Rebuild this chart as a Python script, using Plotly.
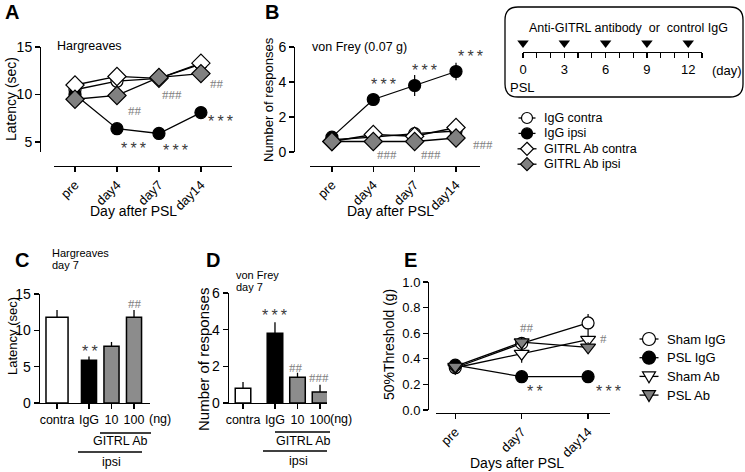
import plotly.graph_objects as go

W, H = 745, 472
def px(x): return x / W
def py(y): return 1 - y / H

SANS = "Liberation Sans, Arial, sans-serif"
SERIF = "Liberation Serif, Times New Roman, serif"
GRAY = "#808080"
BARGRAY = "#8c8c8c"

# ---------------- data ----------------
days = ["pre", "day4", "day7", "day14"]
# Panel A: Hargreaves latency (sec)
a_igg_contra = [10.5, 11.4, 11.7, 13.2]
a_igg_contra_err = [0.4, 0.6, 0.6, 0.8]
a_igg_ipsi = [10.0, 6.4, 5.9, 8.1]
a_igg_ipsi_err = [0.4, 0.4, 0.4, 0.4]
a_ab_contra = [11.0, 11.9, 11.7, 13.3]
a_ab_contra_err = [0.3, 0.4, 0.6, 0.6]
a_ab_ipsi = [9.5, 9.9, 11.8, 12.2]
a_ab_ipsi_err = [0.5, 0.7, 0.9, 0.6]
# Panel B: von Frey (0.07 g) number of responses
b_igg_contra = [0.7, 0.85, 1.05, 1.2]
b_igg_contra_err = [0.1, 0.15, 0.2, 0.2]
b_igg_ipsi = [0.85, 3.0, 3.8, 4.6]
b_igg_ipsi_err = [0.2, 0.2, 0.6, 0.5]
b_ab_contra = [0.6, 1.0, 0.9, 1.4]
b_ab_contra_err = [0.1, 0.2, 0.2, 0.2]
b_ab_ipsi = [0.6, 0.6, 0.6, 0.8]
b_ab_ipsi_err = [0.1, 0.1, 0.1, 0.2]
# Panels C and D: day 7, bars
groups = ["contra", "IgG", "10", "100"]
group_side = ["contra", "ipsi", "ipsi", "ipsi"]
c_latency = [11.8, 5.9, 7.8, 11.8]
c_latency_err = [1.0, 0.5, 0.6, 1.0]
d_responses = [0.8, 3.8, 1.4, 0.6]
d_responses_err = [0.35, 0.6, 0.25, 0.4]
bar_fill = ["white", "black", BARGRAY, BARGRAY]
# Panel E: 50% threshold (g)
e_days = ["pre", "day7", "day14"]
e_sham_igg = [0.33, 0.52, 0.68]
e_sham_igg_err = [0.03, 0.05, 0.07]
e_psl_igg = [0.35, 0.26, 0.26]
e_psl_igg_err = [0.03, 0.05, 0.04]
e_sham_ab = [0.33, 0.44, 0.55]
e_sham_ab_err = [0.03, 0.07, 0.06]
e_psl_ab = [0.34, 0.53, 0.49]
e_psl_ab_err = [0.03, 0.04, 0.04]
# Timeline
timeline_days = list(range(14))
inject_days = [0, 3, 6, 9, 12]

fig = go.Figure()

LINE = dict(color="black", width=1.3)

def err(arr):
    return dict(type="data", array=arr, color="black", thickness=1.2, width=0)

def series(x, y, e, name, symbol, fill, size, xa, ya):
    fig.add_trace(go.Scatter(
        x=x, y=y, error_y=err(e), mode="lines+markers", name=name,
        line=LINE, marker=dict(symbol=symbol, size=size, color=fill,
                               line=dict(color="black", width=1.2)),
        xaxis=xa, yaxis=ya, showlegend=False))

# A
series(days, a_igg_contra, a_igg_contra_err, "IgG contra", "circle", "white", 12, "x", "y")
series(days, a_igg_ipsi, a_igg_ipsi_err, "IgG ipsi", "circle", "black", 12, "x", "y")
series(days, a_ab_contra, a_ab_contra_err, "GITRL Ab contra", "diamond", "white", 14, "x", "y")
series(days, a_ab_ipsi, a_ab_ipsi_err, "GITRL Ab ipsi", "diamond", GRAY, 14, "x", "y")
# B
series(days, b_igg_contra, b_igg_contra_err, "IgG contra", "circle", "white", 12, "x2", "y2")
series(days, b_igg_ipsi, b_igg_ipsi_err, "IgG ipsi", "circle", "black", 12, "x2", "y2")
series(days, b_ab_contra, b_ab_contra_err, "GITRL Ab contra", "diamond", "white", 14, "x2", "y2")
series(days, b_ab_ipsi, b_ab_ipsi_err, "GITRL Ab ipsi", "diamond", GRAY, 14, "x2", "y2")
# E
series(e_days, e_sham_igg, e_sham_igg_err, "Sham IgG", "circle", "white", 12, "x5", "y5")
series(e_days, e_psl_igg, e_psl_igg_err, "PSL IgG", "circle", "black", 12, "x5", "y5")
series(e_days, e_sham_ab, e_sham_ab_err, "Sham Ab", "triangle-down", "white", 13, "x5", "y5")
series(e_days, e_psl_ab, e_psl_ab_err, "PSL Ab", "triangle-down", GRAY, 13, "x5", "y5")

# C and D bars: slot = index, plus a gap separating the contra bar from the ipsi group
GROUP_GAP = 0.42
slots = []
for i, s in enumerate(group_side):
    slots.append(i + (GROUP_GAP if s == "ipsi" else 0.0))

def bars(y, e, xa, ya, widths):
    fig.add_trace(go.Bar(
        x=slots, y=y, width=widths, marker=dict(color=bar_fill, line=dict(color="black", width=1.5)),
        error_y=dict(type="data", symmetric=False, array=e, arrayminus=[0] * len(e),
                     color="black", thickness=1.3, width=0),
        xaxis=xa, yaxis=ya, showlegend=False, name=""))

bars(c_latency, c_latency_err, "x3", "y3", [0.98, 0.67, 0.67, 0.67])
bars(d_responses, d_responses_err, "x4", "y4", [0.69, 0.69, 0.69, 0.69])

# Timeline injections
fig.add_trace(go.Scatter(x=inject_days, y=[0.5] * len(inject_days), mode="markers",
                         marker=dict(symbol="triangle-down", size=10, color="black"),
                         cliponaxis=False,
                         xaxis="x6", yaxis="y6", showlegend=False, hoverinfo="skip"))

AX = dict(showline=True, linecolor="black", linewidth=1.3, ticks="outside", ticklen=5,
          tickwidth=1.3, tickcolor="black", showgrid=False, zeroline=False,
          tickfont=dict(family=SANS, size=14, color="black"))

def xcat(**kw):
    d = dict(AX); d.update(type="category"); d.update(kw); return d

def ylin(**kw):
    d = dict(AX); d.update(kw); return d

TF13 = dict(family=SANS, size=13, color="black")
TF125 = dict(family=SANS, size=12.5, color="black")
layout_axes = dict(
    xaxis=xcat(domain=[px(54), px(232)], anchor="free", position=py(166), range=[-0.5, 3.74],
               tickangle=-45, tickfont=TF13),
    yaxis=ylin(domain=[py(152), py(47)], anchor="free", position=px(40), range=[3.95, 15],
               tickvals=[5, 10, 15]),
    xaxis2=xcat(domain=[px(310), px(480)], anchor="free", position=py(166), range=[-0.53, 3.58],
                tickangle=-45, tickfont=TF13),
    yaxis2=ylin(domain=[py(152), py(47)], anchor="free", position=px(294), range=[0, 6],
                tickvals=[0, 2, 4, 6]),
    xaxis3=ylin(domain=[px(40), px(150)], anchor="y3", range=[-0.756, 4.13], tickangle=0,
                tickvals=slots, ticktext=groups, tickfont=TF125),
    yaxis3=ylin(domain=[py(403), py(294)], anchor="x3", range=[0, 15], tickvals=[0, 5, 10, 15]),
    xaxis4=ylin(domain=[px(229), px(327)], anchor="y4", range=[-0.622, 3.73], tickangle=0,
                tickvals=slots, ticktext=groups, tickfont=TF125),
    yaxis4=ylin(domain=[py(403), py(293)], anchor="x4", range=[0, 6], tickvals=[0, 2, 4, 6]),
    xaxis5=xcat(domain=[px(436), px(610)], anchor="free", position=py(413), range=[-0.29, 2.33],
                tickangle=-45, tickfont=TF13),
    yaxis5=ylin(domain=[py(410), py(282)], anchor="free", position=px(428), range=[0, 1],
                tickvals=[0, 0.2, 0.4, 0.6, 0.8, 1.0], tickformat=".1f", tickfont=TF13),
    xaxis6=dict(AX, domain=[px(523), px(702)], anchor="free", position=py(52), range=[0, 13],
                tickvals=timeline_days, tickangle=0,
                ticktext=[str(d) if d in inject_days else "" for d in timeline_days],
                tickfont=TF13),
    yaxis6=dict(domain=[py(48), py(38)], range=[0, 1], visible=False, anchor="free", position=px(523)),
)

ann = []
def text(x, y, t, size=13, color="black", family=SANS, angle=0, xanchor="center", bold=False):
    ann.append(dict(x=px(x), y=py(y), xref="paper", yref="paper", text=("<b>%s</b>" % t) if bold else t,
                    showarrow=False, textangle=angle, xanchor=xanchor, yanchor="middle",
                    font=dict(family=family, size=size, color=color)))

# panel letters
for L, x, y in [("A", 12, 12), ("B", 272, 12), ("C", 22, 260), ("D", 213, 260), ("E", 411, 260)]:
    text(x, y, L, size=20, bold=True)

# axis titles
text(11, 99, "Latency (sec)", size=14, angle=-90)
text(268, 100, "Number of responses", size=13, angle=-90)
text(12, 336, "Latency (sec)", size=13, angle=-90)
text(203, 360, "Number of responses", size=15, angle=-90)
text(389, 345, "50%Threshold (g)", size=14, angle=-90)
text(133, 211, "Day after PSL", size=14)
text(390, 211, "Day after PSL", size=14)
text(517, 463, "Days after PSL", size=14)

# panel subtitles
text(55, 46, "Hargreaves", size=12.5, xanchor="left")
text(310, 47, "von Frey (0.07 g)", size=12.5, xanchor="left")
text(50, 253, "Hargreaves", size=11, xanchor="left")
text(50, 265, "day 7", size=11, xanchor="left")
text(234, 275, "von Frey", size=11, xanchor="left")
text(234, 287, "day 7", size=11, xanchor="left")

# C / D group labels
text(160, 419, "(ng)", size=12.5)
text(341, 419, "(ng)", size=12.5)
text(120, 441, "GITRL Ab", size=12.5)
text(112, 462, "ipsi", size=12.5)
text(303, 441, "GITRL Ab", size=12.5)
text(298, 461, "ipsi", size=12.5)

# timeline texts
text(628, 28, "Anti-GITRL antibody  or  control IgG", size=12.5)
text(727, 71, "(day)", size=13)
text(522, 88, "PSL", size=13)

# significance marks
STAR = "#3a3a3a"
THIN = "\u2009"
def stars(x, y, t):
    text(x, y + 3, THIN.join(t), size=16, color=STAR)
def hashes(x, y, t):
    text(x, y, t, size=13, color=GRAY, family=SERIF)

for x, y, t in [(133, 145, "***"), (175, 148, "***"), (220, 119, "***"),
                (383, 82, "***"), (425, 67, "***"), (470, 53, "***"),
                (90, 348, "**"), (274, 312, "***"),
                (535, 388, "**"), (608, 388, "***")]:
    stars(x, y, t)
for x, y, t in [(135, 110, "##"), (172, 94, "###"), (217, 84, "##"),
                (387, 154, "###"), (431, 154, "###"), (483, 145, "###"),
                (135, 303, "##"), (296, 367, "##"), (319, 377, "###"),
                (527, 327, "##"), (603, 338, "#")]:
    hashes(x, y, t)

# shapes
shapes = []
def hline(x0, x1, y, w=1.3):
    shapes.append(dict(type="line", xref="paper", yref="paper", x0=px(x0), x1=px(x1),
                       y0=py(y), y1=py(y), line=dict(color="black", width=w)))
hline(100, 151, 433)
hline(78, 142, 452)
hline(275, 330, 432)
hline(263, 327, 451)

def P(x, y):
    return "%.5f,%.5f" % (px(x), py(y))
x0, y0, x1, y1, r = 505, 7, 743, 97, 13
path = ("M %s L %s Q %s %s L %s Q %s %s L %s Q %s %s L %s Q %s %s Z" % (
    P(x0 + r, y0), P(x1 - r, y0), P(x1, y0), P(x1, y0 + r), P(x1, y1 - r), P(x1, y1), P(x1 - r, y1),
    P(x0 + r, y1), P(x0, y1), P(x0, y1 - r), P(x0, y0 + r), P(x0, y0), P(x0 + r, y0)))
shapes.append(dict(type="path", xref="paper", yref="paper", path=path,
                   line=dict(color="black", width=1.3)))

# hand-drawn legends (symbol + label)
def legend_symbol(cx, cy, symbol, fill, r):
    hline(cx - r - 3, cx + r + 3, cy, 1.3)
    if symbol == "circle":
        shapes.append(dict(type="circle", xref="paper", yref="paper",
                           x0=px(cx - r), x1=px(cx + r), y0=py(cy + r), y1=py(cy - r),
                           fillcolor=fill, line=dict(color="black", width=1.2)))
    elif symbol == "diamond":
        p = "M %s L %s L %s L %s Z" % (P(cx, cy - r), P(cx + r, cy), P(cx, cy + r), P(cx - r, cy))
        shapes.append(dict(type="path", xref="paper", yref="paper", path=p,
                           fillcolor=fill, line=dict(color="black", width=1.2)))
    else:  # triangle-down
        p = "M %s L %s L %s Z" % (P(cx - r, cy - r * 0.7), P(cx + r, cy - r * 0.7), P(cx, cy + r))
        shapes.append(dict(type="path", xref="paper", yref="paper", path=p,
                           fillcolor=fill, line=dict(color="black", width=1.2)))

legend1 = [("IgG contra", "circle", "white"), ("IgG ipsi", "circle", "black"),
           ("GITRL Ab contra", "diamond", "white"), ("GITRL Ab ipsi", "diamond", GRAY)]
for i, (name, sym, fill) in enumerate(legend1):
    cy = 118 + i * 15.4
    legend_symbol(527, cy, sym, fill, 5.5 if sym == "circle" else 6.5)
    text(542, cy, name, size=12.5, xanchor="left")

legend2 = [("Sham IgG", "circle", "white"), ("PSL IgG", "circle", "black"),
           ("Sham Ab", "triangle-down", "white"), ("PSL Ab", "triangle-down", GRAY)]
for i, (name, sym, fill) in enumerate(legend2):
    cy = 339 + i * 18.7
    legend_symbol(649, cy, sym, fill, 6.5)
    text(665, cy, name, size=13, xanchor="left")

fig.update_layout(
    width=W, height=H, autosize=False,
    margin=dict(l=0, r=0, t=0, b=0, pad=0, autoexpand=False),
    paper_bgcolor="white", plot_bgcolor="white",
    font=dict(family=SANS, size=13, color="black"),
    annotations=ann, shapes=shapes, bargap=0, showlegend=False,
    **layout_axes,
)

fig.write_html("out.html", config={"displayModeBar": False, "staticPlot": True},
               post_script="document.body.style.margin='0px';"
                           "document.documentElement.style.overflow='hidden';")
